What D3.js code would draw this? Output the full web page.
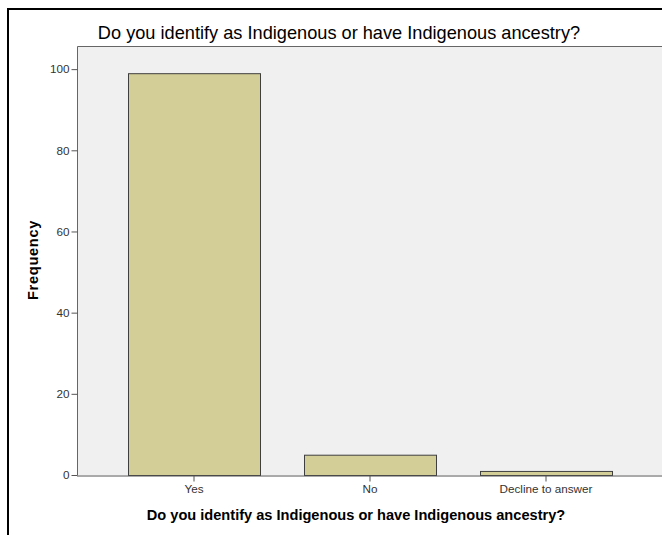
<!DOCTYPE html>
<html><head><meta charset="utf-8">
<script src="https://cdn.jsdelivr.net/npm/d3@7"></script>
<style>body{margin:0;background:#fff;} svg{display:block;}</style>
</head><body>
<svg id="c" width="662" height="535"></svg>
<script>
const categories = ["Yes", "No", "Decline to answer"];
const frequencies = [99, 5, 1];
const yTicks = [0, 20, 40, 60, 80, 100];
const chartTitle = "Do you identify as Indigenous or have Indigenous ancestry?";
const xTitle = "Do you identify as Indigenous or have Indigenous ancestry?";
const yTitle = "Frequency";

const svg = d3.select("#c");
const font = "'Liberation Sans', Arial, sans-serif";

// outer frame
svg.append("path").attr("d", "M8,535 V9 H662").attr("fill", "none")
  .attr("stroke", "#000").attr("stroke-width", 2);

const plot = {left: 77, right: 663, top: 46, bottom: 475};
const y = d3.scaleLinear().domain([0, 105.7]).range([plot.bottom, plot.top]);
const x = d3.scaleBand().domain(categories).range([106, 634]).paddingInner(0.25).paddingOuter(0.125);

svg.append("rect").attr("x", plot.left).attr("y", plot.top)
  .attr("width", plot.right - plot.left).attr("height", plot.bottom - plot.top)
  .attr("fill", "#f0f0f0");
svg.append("path").attr("d", `M${plot.right},${plot.top + 0.5} H${plot.left + 0.5} V${plot.bottom}`)
  .attr("fill", "none").attr("stroke", "#666").attr("stroke-width", 1);

// bars
svg.append("g").selectAll("rect").data(categories).join("rect")
  .attr("x", d => x(d) + 0.5)
  .attr("y", (d, i) => y(frequencies[i]) + 0.5)
  .attr("width", x.bandwidth())
  .attr("height", (d, i) => y(0) - y(frequencies[i]))
  .attr("fill", "#d3ce97").attr("stroke", "#3f3f3f").attr("stroke-width", 1);

// y axis
const yAxis = d3.axisLeft(y).tickValues(yTicks).tickSize(6).tickPadding(2).tickFormat(d3.format("d"));
const gy = svg.append("g").attr("transform", `translate(${plot.left + 0.5},0)`).call(yAxis);
gy.select(".domain").remove();
gy.selectAll("line").attr("stroke", "#555");
gy.selectAll("text").attr("font-family", font).attr("font-size", 11.7).attr("fill", "#333");

// x axis
const xAxis = d3.axisBottom(x).tickSize(6).tickPadding(3);
const gx = svg.append("g").attr("transform", `translate(0,${plot.bottom + 0.5})`).call(xAxis);
gx.select(".domain").attr("d", `M${plot.left},0.5 H${plot.right}`).attr("stroke", "#555");
gx.selectAll(".tick line").attr("stroke", "#555");
gx.selectAll("text").attr("font-family", font).attr("font-size", 11.7).attr("fill", "#333");

// titles
svg.append("text").attr("x", 339).attr("y", 39).attr("text-anchor", "middle")
  .attr("font-family", font).attr("font-size", 18.2).attr("fill", "#000").text(chartTitle);
svg.append("text").attr("x", 356).attr("y", 520).attr("text-anchor", "middle")
  .attr("font-family", font).attr("font-size", 14.6).attr("font-weight", "bold").attr("fill", "#000").text(xTitle);
svg.append("text").attr("transform", "translate(38,260) rotate(-90)").attr("text-anchor", "middle")
  .attr("font-family", font).attr("font-size", 14.6).attr("letter-spacing", 0.7)
  .attr("font-weight", "bold").attr("fill", "#000").text(yTitle);
</script>
</body></html>
